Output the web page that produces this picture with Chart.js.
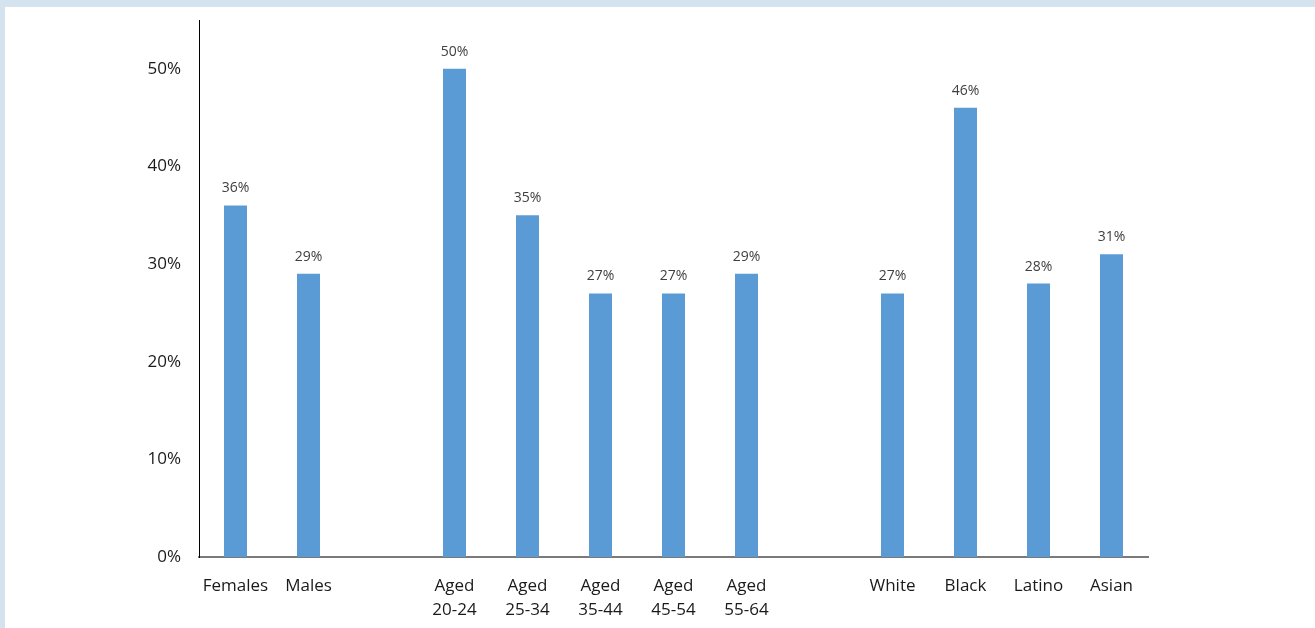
<!DOCTYPE html>
<html>
<head>
<meta charset="utf-8">
<script src="https://cdn.jsdelivr.net/npm/chart.js@4.4.0/dist/chart.umd.min.js"></script>
<style>
    body { margin: 0; background: #d5e3ee; overflow: hidden; }
    #wrap { position: absolute; left: 5px; top: 7px; width: 1310px; height: 621px; background: #ffffff; }
</style>
</head>
<body>
<div id="wrap"><canvas id="barChart" width="1310" height="621"></canvas></div>
<script>
// categories (empty entries are the gaps between groups)
const categories = [
    "Females", "Males", "",
    ["Aged", "20-24"], ["Aged", "25-34"], ["Aged", "35-44"], ["Aged", "45-54"], ["Aged", "55-64"], "",
    "White", "Black", "Latino", "Asian"
];
const shares = [36, 29, null, 50, 35, 27, 27, 29, null, 27, 46, 28, 31];
const yTicks = [0, 10, 20, 30, 40, 50];

const fontName = "'Open Sans', 'DejaVu Sans', sans-serif";

// draw the percentage above each bar
const valueLabels = {
    id: "valueLabels",
    afterDatasetsDraw(chart) {
        const ctx = chart.ctx;
        const meta = chart.getDatasetMeta(0);
        ctx.save();
        ctx.font = "14px " + fontName;
        ctx.fillStyle = "#404040";
        ctx.textAlign = "center";
        ctx.textBaseline = "bottom";
        meta.data.forEach((bar, i) => {
            if (shares[i] == null) return;
            ctx.fillText(shares[i] + "%", bar.x, bar.y - 10);
        });
        ctx.restore();
    }
};

const ctx = document.getElementById("barChart").getContext("2d");
new Chart(ctx, {
    type: "bar",
    data: {
        labels: categories,
        datasets: [{
            data: shares,
            backgroundColor: "#5b9bd5",
            barPercentage: 0.63,
            categoryPercentage: 0.5
        }]
    },
    options: {
        responsive: false,
        animation: false,
        layout: { padding: { top: 0, right: 167, left: 0, bottom: 0 } },
        plugins: {
            legend: { display: false },
            tooltip: { enabled: false }
        },
        scales: {
            x: {
                grid: { display: false, drawTicks: false },
                border: { color: "#7a7a7a", width: 2 },
                ticks: {
                    color: "#1a1a1a",
                    font: { family: fontName, size: 17, lineHeight: 1.4 },
                    padding: 17,
                    maxRotation: 0,
                    autoSkip: false
                },
                afterFit(axis) { axis.height = 71; }
            },
            y: {
                min: 0,
                max: 55,
                grid: { display: false, drawTicks: false },
                border: { color: "#000000", width: 1 },
                ticks: {
                    stepSize: 10,
                    color: "#1a1a1a",
                    font: { family: fontName, size: 17 },
                    padding: 18,
                    callback: (v) => v + "%"
                },
                afterBuildTicks(axis) {
                    axis.ticks = yTicks.map((v) => ({ value: v }));
                },
                afterFit(axis) {
                    axis.width = 194;
                    axis.paddingTop = 13;
                    axis.paddingBottom = 0;
                }
            }
        }
    },
    plugins: [valueLabels]
});
</script>
</body>
</html>
